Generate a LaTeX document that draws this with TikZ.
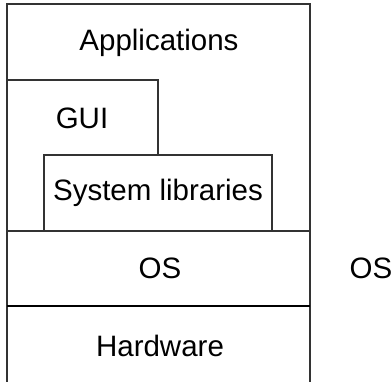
\documentclass[tikz,border=0pt]{standalone}
\usepackage{fontspec}
\setmainfont{Liberation Sans}
\usetikzlibrary{calc}
\tikzset{layer/.style={draw=black!80,line width=1.3pt},
         lbl/.style={font=\fontsize{29.5}{35}\selectfont,inner sep=0pt}}

\begin{document}
\begin{tikzpicture}[x=1pt,y=-1pt]
        \useasboundingbox (0,0) rectangle (392,382);
        % outer frame, open at the bottom
        \draw[layer] (7,382) -- (7,4) -- (310,4) -- (310,382);
        \draw[layer] (7,80) -- (158,80) -- (158,155);
        \draw[layer] (44,155) rectangle (272,231);
        \draw[layer] (7,231) -- (310,231);
        \draw[draw=black,line width=1.8pt] (7,306) -- (310,306);
        \node[lbl] (apps) at (159,43) {Applications};
        \node[lbl] (gui) at (82,118) {GUI};
        \node[lbl] (syslib) at (158,193) {System libraries};
        \node[lbl] (os) at (160,268) {OS};
        \node[lbl] (osside) at (371,268) {OS};
        \node[lbl] (hw) at (160,346) {Hardware};
    \end{tikzpicture}
\end{document}
